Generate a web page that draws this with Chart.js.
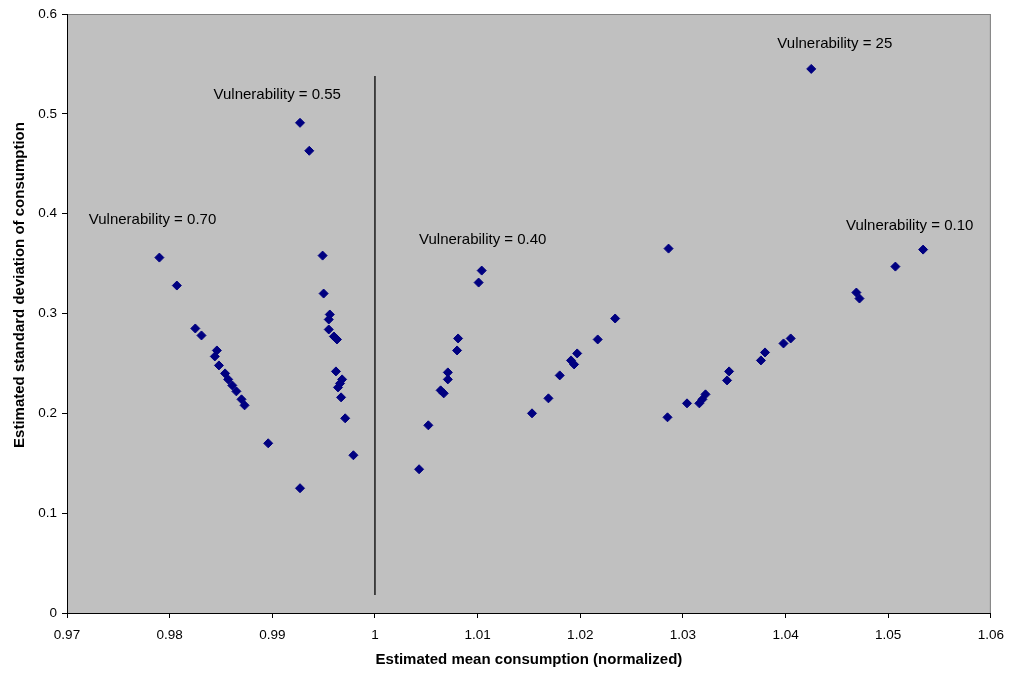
<!DOCTYPE html>
<html>
<head>
<meta charset="utf-8">
<title>Vulnerability scatter</title>
<script src="https://cdn.jsdelivr.net/npm/chart.js@4.4.1/dist/chart.umd.min.js"></script>
<style>
  html, body { margin: 0; padding: 0; background: #fff; }
  #wrap { width: 1013px; height: 675px; }
</style>
</head>
<body>
<div id="wrap"><canvas id="chart" width="1013" height="675"></canvas></div>
<script>
// data (mean consumption, std deviation)
const v70Mean = [0.9790, 0.9807, 0.9825, 0.9831, 0.9846, 0.9844, 0.9848, 0.9854, 0.9857, 0.9861, 0.9865, 0.9870, 0.9873, 0.9896];
const v70Sd   = [0.356, 0.328, 0.285, 0.278, 0.263, 0.257, 0.248, 0.240, 0.234, 0.228, 0.222, 0.214, 0.208, 0.170];

const v55Mean = [0.9927, 0.9936, 0.9949, 0.9950, 0.9956, 0.9955, 0.9955, 0.9960, 0.9963, 0.9962, 0.9968, 0.9966, 0.9964, 0.9967, 0.9971, 0.9979, 0.9927];
const v55Sd   = [0.491, 0.463, 0.358, 0.320, 0.299, 0.294, 0.284, 0.277, 0.274, 0.242, 0.234, 0.230, 0.226, 0.216, 0.195, 0.158, 0.125];

const v40Mean = [1.0104, 1.0101, 1.0081, 1.0080, 1.0071, 1.0071, 1.0064, 1.0067, 1.0052, 1.0043];
const v40Sd   = [0.343, 0.331, 0.275, 0.263, 0.241, 0.234, 0.223, 0.220, 0.188, 0.144];

const v25Mean = [1.0234, 1.0217, 1.0197, 1.0191, 1.0194, 1.0180, 1.0169, 1.0153, 1.0286, 1.0425];
const v25Sd   = [0.295, 0.274, 0.260, 0.253, 0.249, 0.238, 0.215, 0.200, 0.365, 0.545];

const v10Mean = [1.0285, 1.0304, 1.0316, 1.0319, 1.0322, 1.0343, 1.0345, 1.0376, 1.0380, 1.0398, 1.0405, 1.0469, 1.0472, 1.0507, 1.0534];
const v10Sd   = [0.196, 0.210, 0.210, 0.214, 0.219, 0.233, 0.242, 0.253, 0.261, 0.270, 0.275, 0.321, 0.315, 0.347, 0.364];

// vertical reference line at mean = 1
const refLineX = [1, 1];
const refLineY = [0.018, 0.538];

const xTicks = [0.97, 0.98, 0.99, 1, 1.01, 1.02, 1.03, 1.04, 1.05, 1.06];
const yTicks = [0, 0.1, 0.2, 0.3, 0.4, 0.5, 0.6];

// annotation texts and where they sit (data units)
const noteTexts = ['Vulnerability = 0.70', 'Vulnerability = 0.55', 'Vulnerability = 0.40', 'Vulnerability = 25', 'Vulnerability = 0.10'];
const noteX = [0.97833, 0.99048, 1.01050, 1.04480, 1.05209];
const noteY = [0.3938, 0.519, 0.3738, 0.570, 0.3878];

const FONT = '"Liberation Sans", Arial, sans-serif';
const NAVY = '#000080';

function pts(xs, ys) {
  return xs.map((x, i) => ({ x: x, y: ys[i] }));
}

function pointSet(xs, ys) {
  return {
    data: pts(xs, ys),
    pointStyle: 'rectRot',
    pointRadius: 4.5,
    pointBackgroundColor: NAVY,
    pointBorderColor: NAVY,
    pointBorderWidth: 1,
    showLine: false
  };
}

// grey plot background plus thin grey frame
const plotBackground = {
  id: 'plotBackground',
  beforeDraw(chart) {
    const a = chart.chartArea;
    const ctx = chart.ctx;
    ctx.save();
    ctx.fillStyle = '#C0C0C0';
    ctx.fillRect(a.left, a.top, a.right - a.left, a.bottom - a.top);
    ctx.strokeStyle = '#808080';
    ctx.lineWidth = 1;
    ctx.strokeRect(a.left + 0.5, a.top + 0.5, a.right - a.left - 1, a.bottom - a.top);
    ctx.restore();
  }
};

// text notes and axis titles
const notesAndTitles = {
  id: 'notesAndTitles',
  afterDraw(chart) {
    const ctx = chart.ctx;
    const xs = chart.scales.x, ys = chart.scales.y;
    ctx.save();
    ctx.fillStyle = '#000';
    ctx.font = '15px ' + FONT;
    ctx.textAlign = 'center';
    ctx.textBaseline = 'middle';
    noteTexts.forEach((t, i) => {
      ctx.fillText(t, xs.getPixelForValue(noteX[i]), ys.getPixelForValue(noteY[i]));
    });

    ctx.font = 'bold 15px ' + FONT;
    ctx.fillText('Estimated mean consumption (normalized)', (chart.chartArea.left + chart.chartArea.right) / 2, 660);

    ctx.translate(20, 285);
    ctx.rotate(-Math.PI / 2);
    ctx.fillText('Estimated standard deviation of consumption', 0, 0);
    ctx.restore();
  }
};

function fmt(v) {
  return String(Number(v.toFixed(2)));
}

const ctx = document.getElementById('chart').getContext('2d');
new Chart(ctx, {
  type: 'scatter',
  data: {
    datasets: [
      {
        data: pts(refLineX, refLineY),
        showLine: true,
        borderColor: '#000',
        borderWidth: 1.3,
        pointRadius: 0
      },
      pointSet(v70Mean, v70Sd),
      pointSet(v55Mean, v55Sd),
      pointSet(v40Mean, v40Sd),
      pointSet(v25Mean, v25Sd),
      pointSet(v10Mean, v10Sd)
    ]
  },
  options: {
    responsive: false,
    animation: false,
    layout: { padding: { top: 14, right: 20, left: 0, bottom: 0 } },
    plugins: {
      legend: { display: false },
      tooltip: { enabled: false }
    },
    scales: {
      x: {
        type: 'linear',
        min: 0.97,
        max: 1.06,
        afterBuildTicks: s => { s.ticks = xTicks.map(v => ({ value: v })); },
        afterFit: s => { s.height = 62; },
        ticks: {
          color: '#000',
          font: { family: FONT, size: 13.5 },
          padding: 9,
          maxRotation: 0,
          autoSkip: false,
          callback: v => fmt(v)
        },
        grid: { drawOnChartArea: false, drawTicks: true, tickLength: 5, color: '#000' },
        border: { color: '#000', width: 1 }
      },
      y: {
        type: 'linear',
        min: 0,
        max: 0.6,
        afterBuildTicks: s => { s.ticks = yTicks.map(v => ({ value: v })); },
        afterFit: s => { s.width = 67; },
        ticks: {
          color: '#000',
          font: { family: FONT, size: 13.5 },
          padding: 5,
          autoSkip: false,
          callback: v => fmt(v)
        },
        grid: { drawOnChartArea: false, drawTicks: true, tickLength: 5, color: '#000' },
        border: { color: '#000', width: 1 }
      }
    }
  },
  plugins: [plotBackground, notesAndTitles]
});
</script>
</body>
</html>
